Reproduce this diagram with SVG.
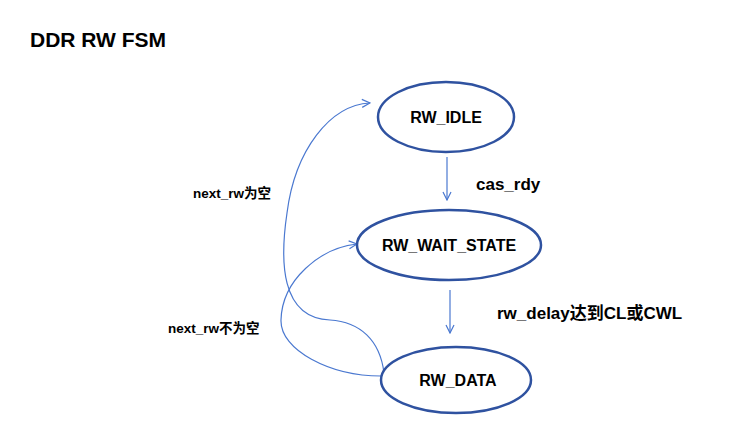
<svg xmlns="http://www.w3.org/2000/svg" width="739" height="423" viewBox="0 0 739 423">
<style>
.n{fill:#fff;stroke:#2f52a0;stroke-width:2.5}
.t{font-family:"Liberation Sans","Noto Sans CJK SC",sans-serif;font-weight:bold;fill:#000}
.c{fill:none;stroke:#4a78d0;stroke-width:1.2}
</style>
<defs><marker id="a" markerWidth="10" markerHeight="10" refX="9" refY="5" orient="auto" markerUnits="userSpaceOnUse"><path d="M1,1 L9,5 L1,9" fill="none" stroke="#4a78d0" stroke-width="1.2"/></marker></defs>
<rect width="739" height="423" fill="#fff"/>
<text class="t" x="30" y="47" font-size="21">DDR RW FSM</text>
<g id="connectors">
<path class="c" d="M447,157 L447,200" marker-end="url(#a)"/>
<path class="c" d="M450,290 L450,333" marker-end="url(#a)"/>
<path class="c" d="M384,373 C380,340 360,322 330,320 C280,318 280,260 287,213 C295,150 330,105 370,103" marker-end="url(#a)"/>
<path class="c" d="M381,376 C330,376 280,350 281,320 C282,280 320,248 357,244" marker-end="url(#a)"/>
<text class="t" x="476" y="190" font-size="17">cas_rdy</text>
<text class="t" x="497" y="319" font-size="17">rw_delay达到CL或CWL</text>
<text class="t" x="193" y="198" font-size="13.5">next_rw为空</text>
<text class="t" x="168" y="333" font-size="13.5">next_rw不为空</text>
</g>
<g id="RW_IDLE"><ellipse class="n" cx="446" cy="117" rx="68" ry="35"/><text class="t" x="446" y="123" font-size="16" text-anchor="middle">RW_IDLE</text></g>
<g id="RW_WAIT_STATE"><ellipse class="n" cx="449" cy="245" rx="92" ry="35"/><text class="t" x="449" y="251" font-size="16" text-anchor="middle">RW_WAIT_STATE</text></g>
<g id="RW_DATA"><ellipse class="n" cx="456" cy="380" rx="75" ry="33"/><text class="t" x="458" y="386" font-size="16" text-anchor="middle">RW_DATA</text></g>
</svg>
